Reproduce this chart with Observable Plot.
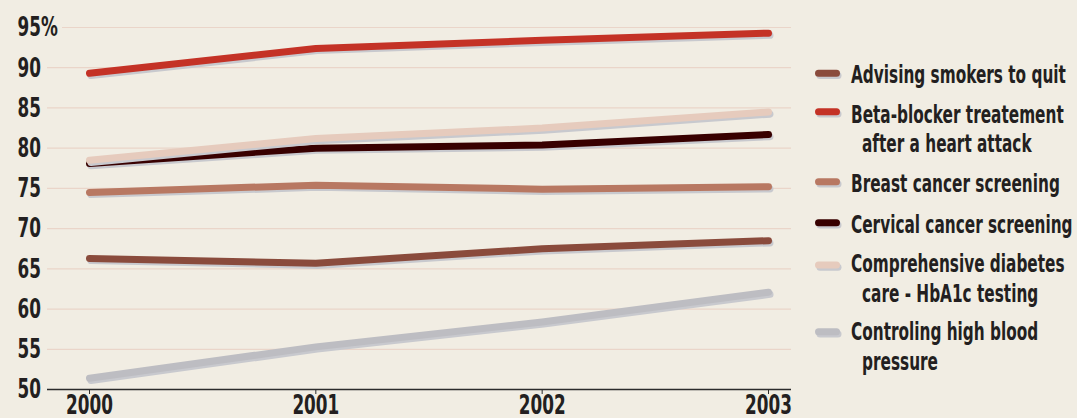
<!DOCTYPE html>
<html><head>
<meta charset="utf-8">
<script src="https://cdn.jsdelivr.net/npm/d3@7"></script>
<script src="https://cdn.jsdelivr.net/npm/@observablehq/plot@0.6"></script>
<style>
body{margin:0;background:#f1ede3;}
#wrap{position:relative;width:1077px;height:418px;overflow:hidden;background:#f1ede3;}
#wrap svg{position:absolute;left:0;top:0;}
</style></head><body><div id="wrap"></div>
<script>
const years = [2000, 2001, 2002, 2003];
const seriesNames = [
  "Advising smokers to quit",
  "Beta-blocker treatement after a heart attack",
  "Breast cancer screening",
  "Cervical cancer screening",
  "Comprehensive diabetes care - HbA1c testing",
  "Controling high blood pressure"
];
const legendLines = [
  ["Advising smokers to quit"],
  ["Beta-blocker treatement", "after a heart attack"],
  ["Breast cancer screening"],
  ["Cervical cancer screening"],
  ["Comprehensive diabetes", "care - HbA1c testing"],
  ["Controling high blood", "pressure"]
];
const smokers  = [66.3, 65.7, 67.5, 68.5];
const beta     = [89.3, 92.4, 93.4, 94.3];
const breast   = [74.5, 75.4, 74.9, 75.2];
const cervical = [78.1, 80.0, 80.4, 81.7];
const diabetes = [78.5, 81.2, 82.5, 84.5];
const bp       = [51.4, 55.3, 58.4, 62.1];
const seriesValues = [smokers, beta, breast, cervical, diabetes, bp];
const colors = ["#8a4b3c", "#c43226", "#b87862", "#380000", "#e6cbbd", "#bdbdc2"];
const yTicks = [50, 55, 60, 65, 70, 75, 80, 85, 90, 95];

const data = seriesNames.flatMap((s, i) => years.map((y, j) => ({series: s, year: y, value: seriesValues[i][j]})));
const drawOrder = [5, 0, 2, 3, 4, 1];
const font = '"DejaVu Sans Condensed","DejaVu Sans",sans-serif';
const squeeze = 0.72;
const textColor = "#231f20";
const shadow = "#c8c9ce";
const grid = "#ead5c9";

const lineMarks = drawOrder.flatMap(i => {
  const d = data.filter(r => r.series === seriesNames[i]);
  return [
    Plot.line(d, {x: "year", y: "value", stroke: shadow, strokeWidth: 7, strokeLinecap: "round", strokeLinejoin: "round", dx: 1.5, dy: 2.2}),
    Plot.line(d, {x: "year", y: "value", stroke: "series", strokeWidth: 7, strokeLinecap: "round", strokeLinejoin: "round"})
  ];
});

const plot = Plot.plot({
  width: 1077, height: 418,
  marginLeft: 47, marginRight: 286, marginTop: 27, marginBottom: 29,
  style: {background: "transparent", fontFamily: font, fontWeight: "bold", fontSize: "26px", color: textColor, overflow: "visible"},
  x: {domain: [2000, 2003], insetLeft: 42, insetRight: 23},
  y: {domain: [50, 95]},
  color: {domain: seriesNames, range: colors},
  marks: [
    Plot.ruleY(yTicks.filter(t => t !== 50 && t !== 95), {stroke: grid, strokeWidth: 1.2}),
    Plot.ruleY([95], {stroke: grid, strokeWidth: 1.2, insetLeft: 15}),
    Plot.axisX({ticks: years, tickFormat: d => String(d), tickSize: 5, tickPadding: 1.5, fontSize: 26, stroke: "#2b2b2b", fill: textColor, label: null}),
    Plot.axisY({ticks: yTicks, tickSize: 0, tickPadding: 3, fontSize: 26, textAnchor: "start", dx: -27, dy: 0.5, tickFormat: d => d === 95 ? "95%" : String(d), fill: textColor, label: null}),
    Plot.ruleY([50], {stroke: "#2b2b2b", strokeWidth: 1.5}),
    ...lineMarks
  ]
});
// condense tick labels horizontally (the original uses a condensed face)
d3.select(plot).selectAll("text").each(function() {
  const t = this.getAttribute("transform");
  if (t) this.setAttribute("transform", t + ` scale(${squeeze},1)`);
  else {
    const x = +this.getAttribute("x") || 0, y = +this.getAttribute("y") || 0;
    this.removeAttribute("x"); this.removeAttribute("y");
    this.setAttribute("transform", `translate(${x},${y}) scale(${squeeze},1)`);
  }
});
const wrap = document.getElementById("wrap");
wrap.appendChild(plot);

// legend
const swatchY = [73.3, 111.7, 181.7, 222.7, 265, 331.7];
const baselines = [[83], [122.7, 151.7], [191.7], [233], [271.7, 301.7], [340, 369.5]];
const legendTextWidth = 215; // width of the first legend line in the original
const leg = d3.create("svg").attr("width", 1077).attr("height", 418)
  .attr("font-family", font).attr("font-weight", "bold").attr("font-size", 25).attr("fill", textColor);
wrap.appendChild(leg.node());
const texts = [];
seriesNames.forEach((s, i) => {
  leg.append("line").attr("x1", 820).attr("x2", 838).attr("y1", swatchY[i] + 2.2).attr("y2", swatchY[i] + 2.2)
    .attr("stroke", shadow).attr("stroke-width", 7).attr("stroke-linecap", "round");
  leg.append("line").attr("x1", 818.5).attr("x2", 836.5).attr("y1", swatchY[i]).attr("y2", swatchY[i])
    .attr("stroke", colors[i]).attr("stroke-width", 7).attr("stroke-linecap", "round");
  legendLines[i].forEach((t, k) => {
    texts.push({node: leg.append("text").text(t).node(), x: k === 0 ? 851 : 862, y: baselines[i][k]});
  });
});
const natural = texts[0].node.getComputedTextLength();
const legSqueeze = natural > 0 ? legendTextWidth / natural : 0.67;
texts.forEach(t => t.node.setAttribute("transform", `translate(${t.x},${t.y}) scale(${legSqueeze},1)`));
</script>
</body></html>
